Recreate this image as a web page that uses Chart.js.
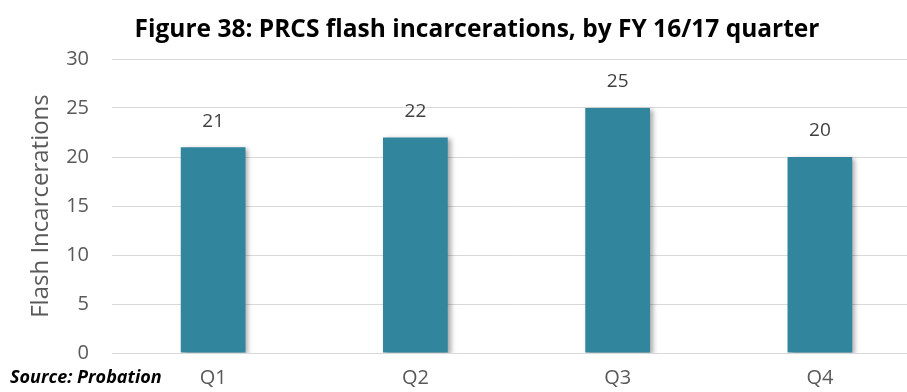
<!DOCTYPE html>
<html>
<head>
<meta charset="utf-8">
<script src="https://cdn.jsdelivr.net/npm/chart.js@4/dist/chart.umd.min.js"></script>
<style>
  html, body { margin: 0; padding: 0; background: #fff; overflow: hidden; }
  #myChart { display: block; }
</style>
</head>
<body>
<canvas id="myChart" width="954" height="392"></canvas>
<script>
    // data
    const quarters = ['Q1', 'Q2', 'Q3', 'Q4']
    const flashCounts = [21, 22, 25, 20]
    const chartTitle = 'Figure 38: PRCS flash incarcerations, by FY 16/17 quarter'
    const yTitle = 'Flash Incarcerations'
    const sourceNote = 'Source: Probation'

    const barColor = 'rgb(49, 133, 156)'
    const textGray = '#595959'

    // shadow behind bars, like the office chart
    const barShadow = {
        id: 'barShadow',
        beforeDatasetDraw(chart) {
            const ctx = chart.ctx
            ctx.save()
            ctx.shadowColor = 'rgba(0, 0, 0, 0.35)'
            ctx.shadowBlur = 5
            ctx.shadowOffsetX = 3
            ctx.shadowOffsetY = 2
        },
        afterDatasetDraw(chart) {
            chart.ctx.restore()
        }
    }

    // value labels over the bars, title and source note
    const extraText = {
        id: 'extraText',
        afterDatasetsDraw(chart) {
            const ctx = chart.ctx
            const meta = chart.getDatasetMeta(0)
            ctx.save()
            ctx.font = '19px "Open Sans"'
            ctx.fillStyle = '#404040'
            ctx.textAlign = 'center'
            ctx.textBaseline = 'middle'
            meta.data.forEach((bar, i) => {
                ctx.fillText(flashCounts[i], bar.x, bar.y - 26)
            })
            ctx.restore()
        },
        afterDraw(chart) {
            const ctx = chart.ctx
            ctx.save()
            // title is off-centre in the original, so draw it here
            ctx.font = 'bold 24.5px "Open Sans"'
            ctx.fillStyle = '#000'
            ctx.textAlign = 'center'
            ctx.textBaseline = 'alphabetic'
            ctx.fillText(chartTitle, 477, 37)

            ctx.font = 'italic bold 18px "Open Sans"'
            ctx.textAlign = 'left'
            ctx.textBaseline = 'middle'
            ctx.fillText(sourceNote, 10, 378)
            ctx.restore()
        }
    }

    const ctx = document.getElementById('myChart').getContext('2d')

    const myChart = new Chart(ctx, {
        type: 'bar',
        data: {
            labels: quarters,
            datasets: [{
                label: yTitle,
                data: flashCounts,
                backgroundColor: barColor,
                borderWidth: 0,
                barPercentage: 0.32,
                categoryPercentage: 1
            }]
        },
        options: {
            responsive: false,
            animation: false,
            devicePixelRatio: 1,
            layout: {
                padding: { left: 12, right: 33, top: 59, bottom: -11 }
            },
            plugins: {
                legend: { display: false },
                tooltip: { enabled: false },
                title: { display: false }
            },
            scales: {
                x: {
                    grid: { display: false, drawTicks: false },
                    border: { display: true, color: '#d9d9d9', width: 1 },
                    ticks: {
                        color: textGray,
                        font: { family: 'Open Sans', size: 20 },
                        padding: 13
                    }
                },
                y: {
                    min: 0,
                    max: 30,
                    afterFit: (scale) => { scale.width = 100 },
                    grid: { color: '#d9d9d9', drawTicks: false },
                    border: { display: false },
                    ticks: {
                        stepSize: 5,
                        color: textGray,
                        font: { family: 'Open Sans', size: 20 },
                        padding: 23
                    },
                    title: {
                        display: true,
                        text: yTitle,
                        color: textGray,
                        font: { family: 'Open Sans', size: 24 },
                        padding: { top: 15, bottom: 11 }
                    }
                }
            }
        },
        plugins: [barShadow, extraText]
    })
</script>
</body>
</html>
